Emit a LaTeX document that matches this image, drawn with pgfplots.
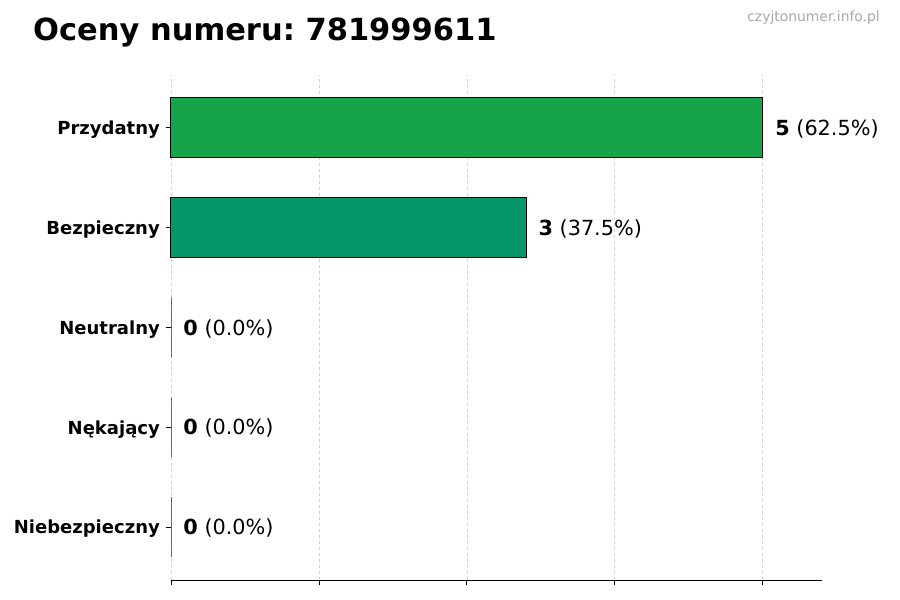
\documentclass[border=0pt]{standalone}
\usepackage{pgfplots}
\pgfplotsset{compat=1.18}
\usepackage{fontspec}
\setmainfont{DejaVu Sans}
\frenchspacing
\definecolor{przyd}{HTML}{16A34A}
\definecolor{bezp}{HTML}{059669}
\definecolor{gridc}{HTML}{D0D0D0}
\definecolor{wmark}{HTML}{A8A8A8}

\begin{document}
\begin{tikzpicture}[x=1pt,y=1pt]
\useasboundingbox (0,0) rectangle (900,600);
% title and watermark
\node[anchor=base west, inner sep=0pt, font=\fontsize{30.5}{33}\selectfont\bfseries] at (33,559) {Oceny numeru: 781999611};
\node[anchor=base east, inner sep=0pt, text=wmark, font=\fontsize{13.9}{15}\selectfont] at (880,578) {czyjtonumer.info.pl};

\begin{axis}[
	at={(171pt,20pt)}, anchor=south west,
	scale only axis,
	width=651pt, height=505pt,
	xmin=0, xmax=5.5,
	ymin=-0.53, ymax=4.53,
	clip=false,
	separate axis lines,
	axis x line*=bottom,
	axis y line*=left,
	y axis line style={draw=none},
	x axis line style={line width=0.9pt},
	xtick={0,1.25,2.5,3.75,5},
	xticklabels={},
	ytick={0,1,2,3,4},
	yticklabels={Niebezpieczny,Nękający,Neutralny,Bezpieczny,Przydatny},
	yticklabel style={font=\fontsize{18}{20}\selectfont\bfseries, inner sep=0pt, xshift=-6pt, yshift=-2pt},
	tick align=outside,
	major tick length=5pt,
	tick style={black, line width=0.9pt},
	xmajorgrids,
	grid style={gridc, dashed, line width=0.8pt},
	xbar, bar width=0.6, bar shift=0pt,
	nodes near coords,
	point meta=explicit symbolic,
	every node near coord/.append style={anchor=west, inner sep=0pt, xshift=12pt, yshift=-1pt,
		font=\fontsize{20.8}{22}\selectfont, text=black},
	]
	\addplot[draw=black, line width=1pt, fill=przyd] coordinates {(5,4) [{\textbf{5} (62.5\%)}]};
	\addplot[draw=black, line width=1pt, fill=bezp] coordinates {(3,3) [{\textbf{3} (37.5\%)}]};
	\addplot[draw=black!85, line width=0.9pt, fill=none] coordinates {
		(0,2) [{\textbf{0} (0.0\%)}]
		(0,1) [{\textbf{0} (0.0\%)}]
		(0,0) [{\textbf{0} (0.0\%)}]
	};
\end{axis}
\end{tikzpicture}
\end{document}
